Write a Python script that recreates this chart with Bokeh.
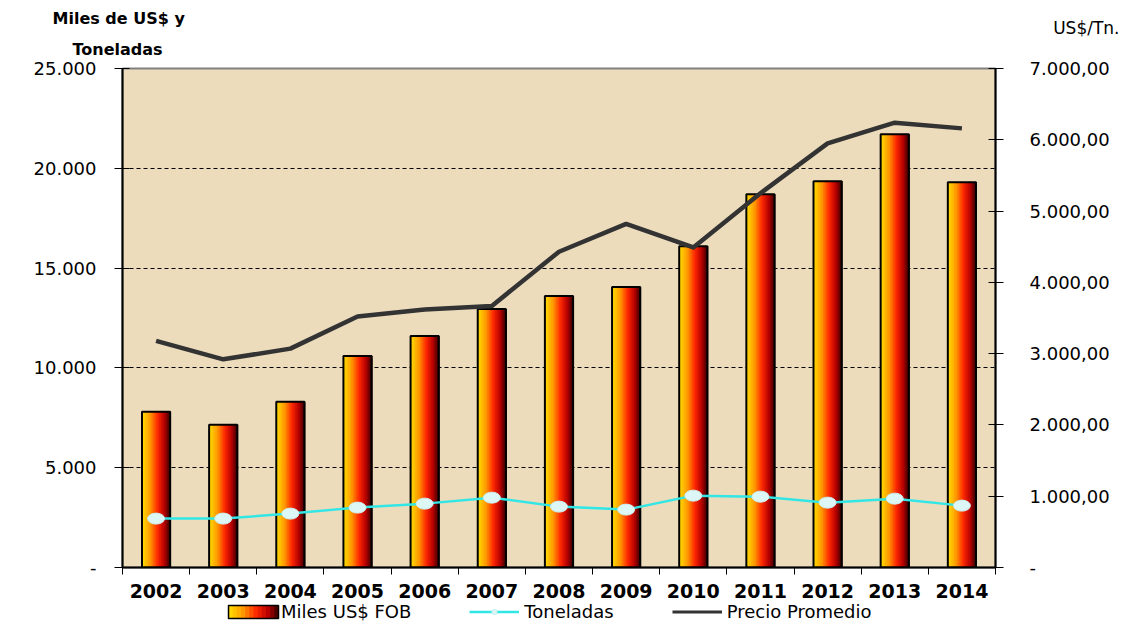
from bokeh.plotting import figure
from bokeh.layouts import column
from bokeh.models import (Range1d, LinearAxis, FixedTicker, Legend, LegendItem, Title)
from bokeh.embed import file_html
from bokeh.resources import INLINE

years = ["2002", "2003", "2004", "2005", "2006", "2007", "2008",
         "2009", "2010", "2011", "2012", "2013", "2014"]
miles_fob = [7800, 7150, 8300, 10600, 11600, 12950, 13600,
             14050, 16100, 18700, 19350, 21700, 19300]
toneladas = [2450, 2450, 2700, 3000, 3200, 3500, 3050,
             2900, 3600, 3550, 3250, 3450, 3100]
precio = [3180, 2920, 3070, 3520, 3620, 3670, 4430,
          4820, 4490, 5250, 5950, 6240, 6160]

left_ticks = [0, 5000, 10000, 15000, 20000, 25000]
left_labels = ["-", "5.000", "10.000", "15.000", "20.000", "25.000"]
right_ticks = [0, 1000, 2000, 3000, 4000, 5000, 6000, 7000]
right_labels = ["-", "1.000,00", "2.000,00", "3.000,00", "4.000,00",
                "5.000,00", "6.000,00", "7.000,00"]

FONT = "DejaVu Sans"
W = 1136
xs = list(range(len(years)))

TON_LINE = "#33e6e6"
TON_PT = "#dcf7f5"
PR_LINE = "#333333"

stops = [(0.0, (255, 224, 0)), (0.3, (255, 150, 0)), (0.55, (255, 40, 0)),
         (0.8, (180, 0, 0)), (1.0, (50, 0, 0))]

def grad(t):
    for (t0, c0), (t1, c1) in zip(stops[:-1], stops[1:]):
        if t <= t1:
            f = (t - t0) / (t1 - t0)
            return "#%02x%02x%02x" % tuple(int(round(a + (b - a) * f)) for a, b in zip(c0, c1))
    return "#%02x%02x%02x" % stops[-1][1]

# ---------------- main chart ----------------
p = figure(width=W, height=601, output_backend="svg", toolbar_location=None,
           x_range=Range1d(-0.5, len(years) - 0.5), y_range=Range1d(0, 25000),
           min_border_left=122, min_border_right=141, min_border_top=68,
           min_border_bottom=34)
p.title.visible = False
p.background_fill_color = "#ecdcbc"
p.border_fill_color = "white"
p.outline_line_color = "#808080"
p.outline_line_width = 2

p.extra_y_ranges = {"precio": Range1d(0, 7000)}

p.xgrid.visible = False
p.ygrid.ticker = FixedTicker(ticks=left_ticks[1:-1])
p.ygrid.grid_line_color = "black"
p.ygrid.grid_line_dash = "4 3"
p.ygrid.grid_line_width = 1

xax = p.xaxis[0]
xax.ticker = FixedTicker(ticks=xs, minor_ticks=[i - 0.5 for i in range(len(years) + 1)])
xax.major_label_overrides = {i: y for i, y in enumerate(years)}
xax.major_tick_in = 0
xax.major_tick_out = 0
xax.minor_tick_in = 0
xax.minor_tick_out = 7
xax.minor_tick_line_color = "black"
xax.axis_line_color = "black"
xax.axis_line_width = 2
xax.major_label_text_font = FONT
xax.major_label_text_font_style = "bold"
xax.major_label_text_font_size = "19px"
xax.major_label_text_color = "black"
xax.major_label_standoff = 9

yax = p.yaxis[0]
yax.ticker = FixedTicker(ticks=left_ticks)
yax.major_label_overrides = dict(zip(left_ticks, left_labels))
yax.major_tick_in = 7
yax.major_tick_out = 8
yax.minor_tick_line_color = None
yax.axis_line_color = "black"
yax.axis_line_width = 2
yax.major_label_text_font = FONT
yax.major_label_text_font_size = "18px"
yax.major_label_text_color = "black"
yax.major_label_standoff = 18

rax = LinearAxis(y_range_name="precio", ticker=FixedTicker(ticks=right_ticks))
rax.major_label_overrides = dict(zip(right_ticks, right_labels))
rax.major_tick_in = 7
rax.major_tick_out = 8
rax.minor_tick_line_color = None
rax.axis_line_color = "black"
rax.axis_line_width = 2
rax.major_label_text_font = FONT
rax.major_label_text_font_size = "18px"
rax.major_label_text_color = "black"
rax.major_label_standoff = 26
p.add_layout(rax, "right")

# axis titles as stacked titles (closest to frame first)
t_ton = Title(text="Toneladas", align="left", offset=-50, text_font=FONT,
              text_font_size="16px", text_font_style="bold", standoff=20,
              text_color="black")
t_us = Title(text="US$/Tn.", align="right", offset=-124, text_font=FONT,
             text_font_size="17px", text_font_style="normal", standoff=-20,
             text_color="black")
t_miles = Title(text="Miles de US$ y", align="left", offset=-70, text_font=FONT,
                text_font_size="16px", text_font_style="bold", standoff=-4,
                text_color="black")
p.add_layout(t_ton, "above")
p.add_layout(t_us, "above")
p.add_layout(t_miles, "above")

# gradient bars from thin strips
bar_w = 0.42
n = 18
sw = bar_w / n
for k in range(n):
    off = -bar_w / 2 + sw * k
    p.vbar(x=[x + off + sw * 0.75 for x in xs], top=miles_fob, width=sw * 1.5,
           fill_color=grad((k + 0.5) / n), line_color=None)
p.vbar(x=xs, top=miles_fob, width=bar_w, fill_color=None,
       line_color="black", line_width=2)

p.line(xs, toneladas, line_color=TON_LINE, line_width=2.5)
p.ellipse(xs, toneladas, width=17, height=11, width_units="screen",
          height_units="screen", fill_color=TON_PT, line_color="#c8f0f0")

p.line(xs, precio, y_range_name="precio", line_color=PR_LINE,
       line_width=4.5, line_join="round")

# ---------------- footer with legend (frame aligned with the chart) ----------------
FH = 21
footer = figure(width=W, height=FH, output_backend="svg", toolbar_location=None,
                x_range=Range1d(0, 873), y_range=Range1d(0, FH), min_border=0,
                x_axis_location=None, y_axis_location=None)
footer.title.visible = False
footer.outline_line_color = None
footer.xgrid.visible = False
footer.ygrid.visible = False
footer.background_fill_color = "white"
footer.border_fill_color = "white"

LX = 104
# gradient swatch for the bar legend entry
m = 12
gw = 50 / m
footer.quad(left=[LX + 2 + gw * k for k in range(m)],
            right=[LX + 2 + gw * (k + 1.3) if k < m - 1 else LX + 2 + gw * (k + 1) for k in range(m)],
            bottom=[4] * m, top=[17] * m,
            fill_color=[grad((k + 0.5) / m) for k in range(m)], line_color=None)
footer.quad(left=[LX + 2], right=[LX + 52], bottom=[4], top=[17],
            fill_color=None, line_color="black", line_width=1.5)

# legend proxies (their single points lie outside the visible range)
lg_bar = footer.vbar(x=[-100], top=[-100], width=1, fill_alpha=0.0, line_alpha=0.0)
lg_ton_line = footer.line(x=[-100, -90], y=[-100, -100], line_color=TON_LINE, line_width=2.5)
lg_ton_pt = footer.scatter(x=[-100], y=[-100], size=11, marker="circle",
                           fill_color=TON_PT, line_color="#bfeeee")
lg_pr = footer.line(x=[-100, -90], y=[-100, -100], line_color=PR_LINE, line_width=3)

legend = Legend(items=[
    LegendItem(label="Miles US$ FOB", renderers=[lg_bar]),
    LegendItem(label="Toneladas", renderers=[lg_ton_line, lg_ton_pt]),
    LegendItem(label="Precio Promedio", renderers=[lg_pr]),
], orientation="horizontal", location=(LX, 0), border_line_color=None,
    background_fill_alpha=0.0, label_text_color="black",
    label_text_font=FONT, label_text_font_size="18px", glyph_width=50,
    glyph_height=13, label_height=19, padding=1, spacing=58, margin=0,
    label_standoff=5)
footer.add_layout(legend, "center")

layout = column(p, footer, spacing=0)
open("out.html", "w").write(file_html(layout, INLINE))
